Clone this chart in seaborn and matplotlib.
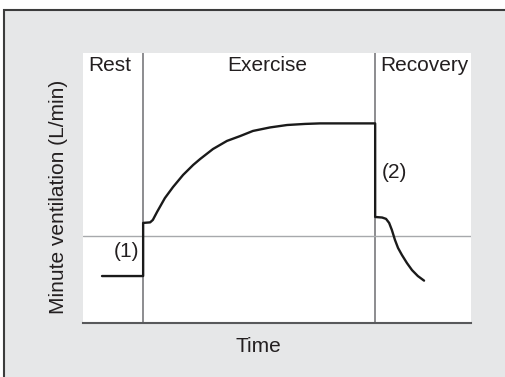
import pandas as pd
import matplotlib.pyplot as plt
import matplotlib.patches as mpatches
import seaborn as sns

# Ventilation curve (arbitrary time / ventilation units)
time = [4.9, 15.5, 15.5, 17.3, 18.0, 19.1, 21.1, 23.2, 25.8, 28.4,
        30.2, 33.5, 37.1, 40.5, 43.8, 48.2, 52.6, 57.2, 61.1, 66.2,
        75.3, 75.3, 77.1, 78.1, 78.9, 79.6, 80.4, 81.2, 82.2, 83.5,
        84.8, 86.3, 87.9]
ventilation = [17.3, 17.3, 37.0, 37.2, 38.1, 41.1, 46.2, 50.3, 54.8, 58.5,
               60.7, 64.4, 67.4, 69.2, 71.1, 72.4, 73.3, 73.7, 73.9, 73.9,
               73.9, 39.2, 39.0, 38.5, 37.0, 34.4, 30.7, 27.7, 25.1, 22.1,
               19.5, 17.3, 15.6]

phase_bounds = [15.5, 75.3]
baseline = 32.2
phase_names = ["Rest", "Exercise", "Recovery"]
phase_x = [1.3, 47.4, 76.5]
phase_ha = ["left", "center", "left"]
notes = ["(1)", "(2)"]
note_x = [14.6, 77.0]
note_y = [26.3, 55.6]
note_ha = ["right", "left"]

df = pd.DataFrame({"Time": time, "Ventilation": ventilation})

sns.set_theme(style="white")
plt.rcParams["font.family"] = ["Liberation Sans", "DejaVu Sans"]
txt = "#231f20"

fig = plt.figure(figsize=(5.06, 3.77), dpi=100)
fig.patch.set_facecolor("white")
# grey panel with dark border behind the chart
fig.add_artist(mpatches.Rectangle((4 / 506, -0.2), 1.2, (377 - 10) / 377 + 0.2,
                                  transform=fig.transFigure, facecolor="#e6e7e8",
                                  edgecolor="#3c3c3c", lw=1.5, zorder=0))

ax = fig.add_axes([83 / 506, (377 - 322.7) / 377, 388 / 506, 269.7 / 377])
ax.set_facecolor("white")

for b in phase_bounds:
    ax.axvline(b, color="#6d6e71", lw=1.1, zorder=1)
ax.axhline(baseline, color="#a7a9ac", lw=1.0, zorder=1)

# estimator=None keeps the vertical steps (repeated x values) as drawn
sns.lineplot(data=df, x="Time", y="Ventilation", sort=False, estimator=None,
             color="#1a1a1a", lw=1.7, ax=ax, zorder=3)

for name, x, ha in zip(phase_names, phase_x, phase_ha):
    ax.text(x, 95.2, name, ha=ha, va="center", fontsize=15, color=txt)
for n, x, y, ha in zip(notes, note_x, note_y, note_ha):
    ax.text(x, y, n, ha=ha, va="center", fontsize=15, color=txt)

ax.set_xlim(0, 100)
ax.set_ylim(0, 100)
ax.set_xticks([])
ax.set_yticks([])
for s in ["top", "right", "left"]:
    ax.spines[s].set_visible(False)
ax.spines["bottom"].set_color("#58595b")
ax.spines["bottom"].set_linewidth(1.5)

ax.set_xlabel("Time", fontsize=15, color=txt, va="center")
ax.xaxis.set_label_coords((258.5 - 83) / 388, (322.7 - 347) / 269.7)
ax.set_ylabel("Minute ventilation (L/min)", fontsize=15, color=txt, va="center")
ax.yaxis.set_label_coords((59 - 83) / 388, 0.468)

fig.savefig("out.png", dpi=100)
